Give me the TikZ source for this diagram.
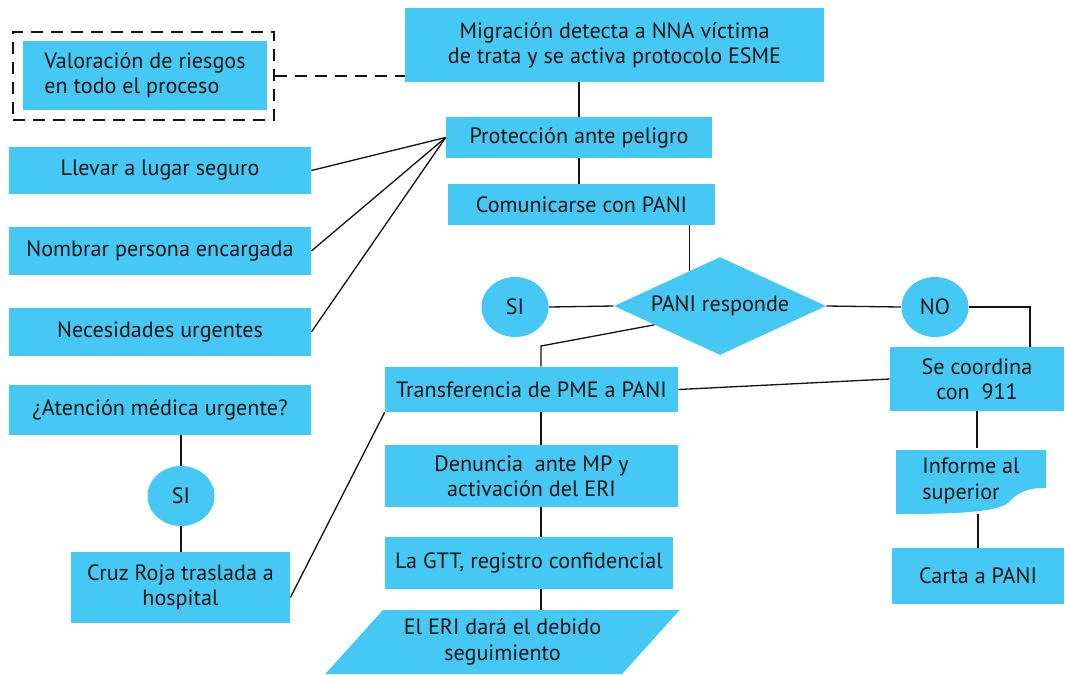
\documentclass[tikz,border=0pt]{standalone}
\usepackage{fontspec}
\setmainfont{PT Sans}
\usetikzlibrary{shapes.geometric}
\definecolor{cajacyan}{RGB}{70,200,245}
\definecolor{tinta}{RGB}{20,20,20}
\tikzset{
  caja/.style 2 args = {
    fill=cajacyan, text=tinta, align=center, inner sep=0pt,
    minimum width=#1*0.02cm, minimum height=#2*0.02cm
  },
  burbuja/.style = {
    ellipse, fill=cajacyan, text=tinta, inner sep=0pt,
    minimum width=67*0.02cm, minimum height=60*0.02cm
  },
  enlace/.style = {line width=0.75pt, draw=tinta}
}

\begin{document}
\begin{tikzpicture}[x=0.02cm,y=-0.02cm,font=\fontsize{12.6}{14.4}\selectfont]
  \useasboundingbox (0,0) rectangle (1065,674);
  % main column
  \node[caja={419}{74}] (alerta) at (614.5,45) {Migración detecta a NNA víctima\\de trata y se activa protocolo ESME};
  \node[caja={266}{41}] (proteccion) at (579,137.5) {Protección ante peligro};
  \node[caja={267}{41}] (comunica) at (581.5,204.5) {Comunicarse con PANI};
  \node[diamond, aspect=2.2, fill=cajacyan, text=tinta, inner sep=0pt,
        minimum width=212*0.02cm, minimum height=98*0.02cm] (responde) at (720,306) {PANI responde};
  \node[burbuja] (si) at (515,307) {SI};
  \node[burbuja] (no) at (935,307) {NO};
  \node[caja={293}{45}] (transf) at (531.5,389.5) {Transferencia de PME a PANI};
  \node[caja={293}{62}] (denuncia) at (531.5,476) {Denuncia\ \ ante MP y\\activación del ERI};
  \node[caja={288}{52}] (gtt) at (529,563) {La GTT, registro confidencial};
  \node[trapezium, trapezium left angle=44, trapezium right angle=136, trapezium stretches=true,
        fill=cajacyan, text=tinta, align=center, inner sep=0pt,
        minimum width=355*0.02cm, minimum height=64*0.02cm] (seguim) at (502.5,642) {El ERI dará el debido\\seguimiento};
  % right column
  \node[caja={174}{64}] (coordina) at (977,379) {Se coordina\\con\ \ 911};
  \fill[cajacyan] (896,450) -- (1046,450) -- (1046,488)
    .. controls (1030,488) and (1020,490) .. (1008,503)
    .. controls (995,512) and (960,514) .. (896,514) -- cycle;
  \node[align=left, text=tinta, inner sep=0pt, minimum width=150*0.02cm, minimum height=66*0.02cm] (informe) at (971,481) {Informe al\\superior};
  \node[caja={172}{56}] (carta) at (978,576) {Carta a PANI};
  % left column
  \node[draw=tinta, line width=1.1pt, dash pattern=on 0.24cm off 0.16cm,
        minimum width=261*0.02cm, minimum height=88*0.02cm] (marco) at (143.5,76) {};
  \node[caja={244}{69}, align=left] (valora) at (145,75.5) {Valoración de riesgos\\en todo el proceso};
  \node[caja={302}{47}] (llevar) at (160,170.5) {Llevar a lugar seguro};
  \node[caja={302}{48}] (nombrar) at (160,251) {Nombrar persona encargada};
  \node[caja={302}{48}] (urgente) at (160,332) {Necesidades urgentes};
  \node[caja={302}{50}] (atencion) at (160,410) {¿Atención médica urgente?};
  \node[burbuja] (sialt) at (181,496) {SI};
  \node[caja={219}{71}] (cruz) at (180.5,587.5) {Cruz Roja traslada a\\hospital};
  % connectors
  \coordinate (bend) at (541,346);
  \draw[tinta, line width=1.1pt, dash pattern=on 0.24cm off 0.16cm] (marco.east) -- (marco.east -| alerta.west);
  \draw[enlace] (proteccion.north |- alerta.south) -- (proteccion.north);
  \draw[enlace] (proteccion.south) -- (proteccion.south |- comunica.north);
  \draw[enlace] (proteccion.west) -- (llevar.east);
  \draw[enlace] (proteccion.west) -- (nombrar.east);
  \draw[enlace] (proteccion.west) -- (urgente.east);
  \draw[enlace] (responde.131) -- (responde.131 |- comunica.south);
  \draw[enlace] (si.east) -- (responde.west);
  \draw[enlace] (responde.east) -- (no.west);
  \draw[enlace] (responde.196) -- (bend) -- (bend |- transf.north);
  \draw[enlace] (bend |- transf.south) -- (bend |- denuncia.north);
  \draw[enlace] (bend |- denuncia.south) -- (bend |- gtt.north);
  \draw[enlace] (bend |- gtt.south) -- (bend |- seguim.north);
  \draw[enlace] (no.east) -| ([xshift=53*0.02cm]coordina.north);
  \draw[enlace] (transf.east) -- (coordina.west);
  \draw[enlace] (coordina.south) -- (coordina.south |- informe.north);
  \draw[enlace] (carta.north |- informe.south) -- (carta.north);
  \draw[enlace] (atencion.south -| sialt.north) -- (sialt.north);
  \draw[enlace] (sialt.south) -- (sialt.south |- cruz.north);
  \draw[enlace] ([yshift=-0.2cm]cruz.east) -- (transf.south west);
\end{tikzpicture}
\end{document}
